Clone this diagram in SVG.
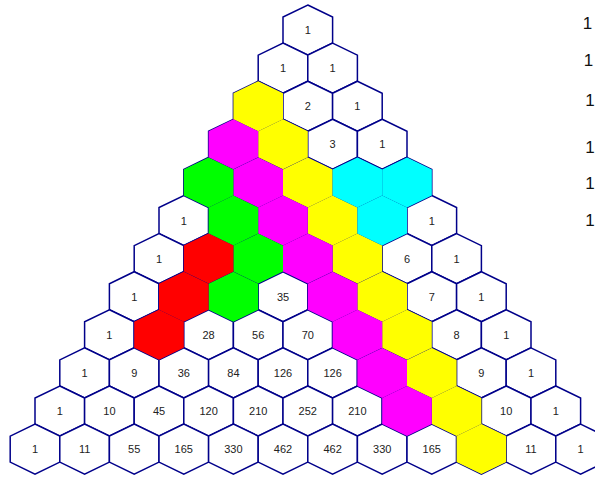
<svg xmlns="http://www.w3.org/2000/svg" width="595" height="477" viewBox="0 0 595 477">
<style>
.w{fill:#ffffff;stroke:#00008a;stroke-width:1.5;stroke-linejoin:miter}
.Y{fill:#ffff00}.M{fill:#ff00ff}.G{fill:#00ff00}.R{fill:#ff0000}.C{fill:#00ffff}
text{font-family:"Liberation Sans",Arial,sans-serif;fill:#222;text-anchor:middle}
.t{font-size:11px}
.s{font-size:17px;fill:#111}
</style>
<defs>
<polygon id="h" points="0,-25 24.8,-13 24.8,13 0,25 -24.8,13 -24.8,-13"/>
</defs>
<rect width="595" height="477" fill="#ffffff"/>
<g id="nodes">
<g id="n0-0"><use href="#h" class="w" x="307.8" y="30"/><text class="t" x="307.8" y="34">1</text></g>
<g id="n1-0"><use href="#h" class="w" x="283" y="68.1"/><text class="t" x="283" y="72.1">1</text></g>
<g id="n1-1"><use href="#h" class="w" x="332.6" y="68.1"/><text class="t" x="332.6" y="72.1">1</text></g>
<g id="n2-0"><use href="#h" class="w" x="258.2" y="106.2"/></g>
<g id="n2-1"><use href="#h" class="w" x="307.8" y="106.2"/><text class="t" x="307.8" y="110.2">2</text></g>
<g id="n2-2"><use href="#h" class="w" x="357.4" y="106.2"/><text class="t" x="357.4" y="110.2">1</text></g>
<g id="n3-0"><use href="#h" class="w" x="233.4" y="144.3"/></g>
<g id="n3-1"><use href="#h" class="w" x="283" y="144.3"/></g>
<g id="n3-2"><use href="#h" class="w" x="332.6" y="144.3"/><text class="t" x="332.6" y="148.3">3</text></g>
<g id="n3-3"><use href="#h" class="w" x="382.2" y="144.3"/><text class="t" x="382.2" y="148.3">1</text></g>
<g id="n4-0"><use href="#h" class="w" x="208.6" y="182.4"/></g>
<g id="n4-1"><use href="#h" class="w" x="258.2" y="182.4"/></g>
<g id="n4-2"><use href="#h" class="w" x="307.8" y="182.4"/></g>
<g id="n4-3"><use href="#h" class="w" x="357.4" y="182.4"/></g>
<g id="n4-4"><use href="#h" class="w" x="407" y="182.4"/></g>
<g id="n5-0"><use href="#h" class="w" x="183.8" y="220.5"/><text class="t" x="183.8" y="224.5">1</text></g>
<g id="n5-1"><use href="#h" class="w" x="233.4" y="220.5"/></g>
<g id="n5-2"><use href="#h" class="w" x="283" y="220.5"/></g>
<g id="n5-3"><use href="#h" class="w" x="332.6" y="220.5"/></g>
<g id="n5-4"><use href="#h" class="w" x="382.2" y="220.5"/></g>
<g id="n5-5"><use href="#h" class="w" x="431.8" y="220.5"/><text class="t" x="431.8" y="224.5">1</text></g>
<g id="n6-0"><use href="#h" class="w" x="159" y="258.6"/><text class="t" x="159" y="262.6">1</text></g>
<g id="n6-1"><use href="#h" class="w" x="208.6" y="258.6"/></g>
<g id="n6-2"><use href="#h" class="w" x="258.2" y="258.6"/></g>
<g id="n6-3"><use href="#h" class="w" x="307.8" y="258.6"/></g>
<g id="n6-4"><use href="#h" class="w" x="357.4" y="258.6"/></g>
<g id="n6-5"><use href="#h" class="w" x="407" y="258.6"/><text class="t" x="407" y="262.6">6</text></g>
<g id="n6-6"><use href="#h" class="w" x="456.6" y="258.6"/><text class="t" x="456.6" y="262.6">1</text></g>
<g id="n7-0"><use href="#h" class="w" x="134.2" y="296.7"/><text class="t" x="134.2" y="300.7">1</text></g>
<g id="n7-1"><use href="#h" class="w" x="183.8" y="296.7"/></g>
<g id="n7-2"><use href="#h" class="w" x="233.4" y="296.7"/></g>
<g id="n7-3"><use href="#h" class="w" x="283" y="296.7"/><text class="t" x="283" y="300.7">35</text></g>
<g id="n7-4"><use href="#h" class="w" x="332.6" y="296.7"/></g>
<g id="n7-5"><use href="#h" class="w" x="382.2" y="296.7"/></g>
<g id="n7-6"><use href="#h" class="w" x="431.8" y="296.7"/><text class="t" x="431.8" y="300.7">7</text></g>
<g id="n7-7"><use href="#h" class="w" x="481.4" y="296.7"/><text class="t" x="481.4" y="300.7">1</text></g>
<g id="n8-0"><use href="#h" class="w" x="109.4" y="334.8"/><text class="t" x="109.4" y="338.8">1</text></g>
<g id="n8-1"><use href="#h" class="w" x="159" y="334.8"/></g>
<g id="n8-2"><use href="#h" class="w" x="208.6" y="334.8"/><text class="t" x="208.6" y="338.8">28</text></g>
<g id="n8-3"><use href="#h" class="w" x="258.2" y="334.8"/><text class="t" x="258.2" y="338.8">56</text></g>
<g id="n8-4"><use href="#h" class="w" x="307.8" y="334.8"/><text class="t" x="307.8" y="338.8">70</text></g>
<g id="n8-5"><use href="#h" class="w" x="357.4" y="334.8"/></g>
<g id="n8-6"><use href="#h" class="w" x="407" y="334.8"/></g>
<g id="n8-7"><use href="#h" class="w" x="456.6" y="334.8"/><text class="t" x="456.6" y="338.8">8</text></g>
<g id="n8-8"><use href="#h" class="w" x="506.2" y="334.8"/><text class="t" x="506.2" y="338.8">1</text></g>
<g id="n9-0"><use href="#h" class="w" x="84.6" y="372.9"/><text class="t" x="84.6" y="376.9">1</text></g>
<g id="n9-1"><use href="#h" class="w" x="134.2" y="372.9"/><text class="t" x="134.2" y="376.9">9</text></g>
<g id="n9-2"><use href="#h" class="w" x="183.8" y="372.9"/><text class="t" x="183.8" y="376.9">36</text></g>
<g id="n9-3"><use href="#h" class="w" x="233.4" y="372.9"/><text class="t" x="233.4" y="376.9">84</text></g>
<g id="n9-4"><use href="#h" class="w" x="283" y="372.9"/><text class="t" x="283" y="376.9">126</text></g>
<g id="n9-5"><use href="#h" class="w" x="332.6" y="372.9"/><text class="t" x="332.6" y="376.9">126</text></g>
<g id="n9-6"><use href="#h" class="w" x="382.2" y="372.9"/></g>
<g id="n9-7"><use href="#h" class="w" x="431.8" y="372.9"/></g>
<g id="n9-8"><use href="#h" class="w" x="481.4" y="372.9"/><text class="t" x="481.4" y="376.9">9</text></g>
<g id="n9-9"><use href="#h" class="w" x="531" y="372.9"/><text class="t" x="531" y="376.9">1</text></g>
<g id="n10-0"><use href="#h" class="w" x="59.8" y="411"/><text class="t" x="59.8" y="415">1</text></g>
<g id="n10-1"><use href="#h" class="w" x="109.4" y="411"/><text class="t" x="109.4" y="415">10</text></g>
<g id="n10-2"><use href="#h" class="w" x="159" y="411"/><text class="t" x="159" y="415">45</text></g>
<g id="n10-3"><use href="#h" class="w" x="208.6" y="411"/><text class="t" x="208.6" y="415">120</text></g>
<g id="n10-4"><use href="#h" class="w" x="258.2" y="411"/><text class="t" x="258.2" y="415">210</text></g>
<g id="n10-5"><use href="#h" class="w" x="307.8" y="411"/><text class="t" x="307.8" y="415">252</text></g>
<g id="n10-6"><use href="#h" class="w" x="357.4" y="411"/><text class="t" x="357.4" y="415">210</text></g>
<g id="n10-7"><use href="#h" class="w" x="407" y="411"/></g>
<g id="n10-8"><use href="#h" class="w" x="456.6" y="411"/></g>
<g id="n10-9"><use href="#h" class="w" x="506.2" y="411"/><text class="t" x="506.2" y="415">10</text></g>
<g id="n10-10"><use href="#h" class="w" x="555.8" y="411"/><text class="t" x="555.8" y="415">1</text></g>
<g id="n11-0"><use href="#h" class="w" x="35" y="449.1"/><text class="t" x="35" y="453.1">1</text></g>
<g id="n11-1"><use href="#h" class="w" x="84.6" y="449.1"/><text class="t" x="84.6" y="453.1">11</text></g>
<g id="n11-2"><use href="#h" class="w" x="134.2" y="449.1"/><text class="t" x="134.2" y="453.1">55</text></g>
<g id="n11-3"><use href="#h" class="w" x="183.8" y="449.1"/><text class="t" x="183.8" y="453.1">165</text></g>
<g id="n11-4"><use href="#h" class="w" x="233.4" y="449.1"/><text class="t" x="233.4" y="453.1">330</text></g>
<g id="n11-5"><use href="#h" class="w" x="283" y="449.1"/><text class="t" x="283" y="453.1">462</text></g>
<g id="n11-6"><use href="#h" class="w" x="332.6" y="449.1"/><text class="t" x="332.6" y="453.1">462</text></g>
<g id="n11-7"><use href="#h" class="w" x="382.2" y="449.1"/><text class="t" x="382.2" y="453.1">330</text></g>
<g id="n11-8"><use href="#h" class="w" x="431.8" y="449.1"/><text class="t" x="431.8" y="453.1">165</text></g>
<g id="n11-9"><use href="#h" class="w" x="481.4" y="449.1"/></g>
<g id="n11-10"><use href="#h" class="w" x="531" y="449.1"/><text class="t" x="531" y="453.1">11</text></g>
<g id="n11-11"><use href="#h" class="w" x="580.6" y="449.1"/><text class="t" x="580.6" y="453.1">1</text></g>
</g>
<g id="highlights">
<g class="Y"><use href="#h" x="258.2" y="106.2"/><use href="#h" x="283" y="144.3"/><use href="#h" x="307.8" y="182.4"/><use href="#h" x="332.6" y="220.5"/><use href="#h" x="357.4" y="258.6"/><use href="#h" x="382.2" y="296.7"/><use href="#h" x="407" y="334.8"/><use href="#h" x="431.8" y="372.9"/><use href="#h" x="456.6" y="411"/><use href="#h" x="481.4" y="449.1"/></g>
<g class="M"><use href="#h" x="233.4" y="144.3"/><use href="#h" x="258.2" y="182.4"/><use href="#h" x="283" y="220.5"/><use href="#h" x="307.8" y="258.6"/><use href="#h" x="332.6" y="296.7"/><use href="#h" x="357.4" y="334.8"/><use href="#h" x="382.2" y="372.9"/><use href="#h" x="407" y="411"/></g>
<g class="G"><use href="#h" x="208.6" y="182.4"/><use href="#h" x="233.4" y="220.5"/><use href="#h" x="258.2" y="258.6"/><use href="#h" x="233.4" y="296.7"/></g>
<g class="R"><use href="#h" x="208.6" y="258.6"/><use href="#h" x="183.8" y="296.7"/><use href="#h" x="159" y="334.8"/></g>
<g class="C"><use href="#h" x="357.4" y="182.4"/><use href="#h" x="407" y="182.4"/><use href="#h" x="382.2" y="220.5"/></g>
</g>
<g id="side">
<text class="s" x="587.5" y="29">1</text>
<text class="s" x="588.5" y="66">1</text>
<text class="s" x="590" y="106">1</text>
<text class="s" x="590" y="152.5">1</text>
<text class="s" x="590" y="189">1</text>
<text class="s" x="590" y="226">1</text>
</g>
</svg>
